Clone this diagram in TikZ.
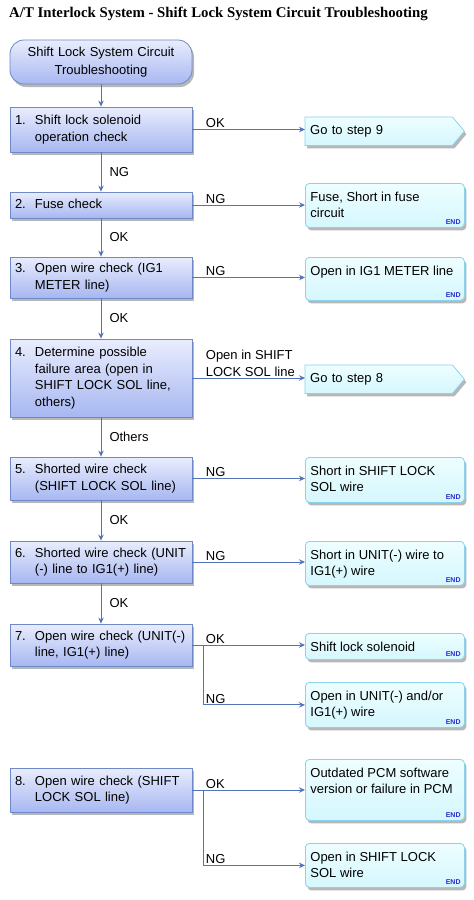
\documentclass[tikz,border=0pt]{standalone}
\usepackage{fontspec}
\setmainfont{Liberation Sans}
\newfontfamily\titlefont{Liberation Serif}
\usetikzlibrary{shadows,arrows.meta}
\pgfdeclarelayer{bg}
\pgfsetlayers{bg,main}
\definecolor{lbtop}{HTML}{E9EDFD}
\definecolor{lbbot}{HTML}{A7B7F1}
\definecolor{lbdraw}{HTML}{6E89C6}
\definecolor{rbtop}{HTML}{EEFEFF}
\definecolor{rbbot}{HTML}{D4F7FD}
\definecolor{rbdraw}{HTML}{8AD3F0}
\definecolor{arrcol}{HTML}{5474B8}
\definecolor{endcol}{HTML}{2A2ACF}
\newcommand\numtext[2]{\makebox[20pt][l]{#1}\begin{tabular}[t]{@{}l@{}}#2\end{tabular}}
\newcommand\rtext[2]{\begin{minipage}[c][#1][t]{149pt}\raggedright\vspace*{6.5pt}\strut #2\end{minipage}}
\tikzset{
  shadowed/.style={drop shadow={shadow xshift=2pt,shadow yshift=-3pt,fill=black!40,opacity=0.7}},
  lbox/.style={draw=lbdraw, line width=0.8pt, top color=lbtop, bottom color=lbbot,
    minimum width=182pt, text width=172pt, inner xsep=5pt, inner ysep=0pt, align=left, shadowed},
  sbox/.style={lbox, rounded corners=14pt, align=center, minimum height=44pt},
  rbox/.style={draw=rbdraw, line width=0.8pt, rounded corners=4pt, top color=rbtop, bottom color=rbbot,
    minimum width=159pt, inner xsep=5pt, inner ysep=0pt, anchor=north west, shadowed,
    label={[endlbl]south east:END}},
  sigtext/.style={anchor=north west, minimum width=159pt, minimum height=28pt, inner xsep=5pt,
    inner ysep=0pt, text width=149pt, align=left},
  sigshape/.style={draw=rbdraw, line width=0.8pt, top color=rbtop, bottom color=rbbot, shadowed},
  endlbl/.style={anchor=south east, font=\fontsize{7}{8}\selectfont\bfseries, text=endcol, inner xsep=4pt, inner ysep=3.5pt},
  arr/.style={draw=arrcol, line width=1pt, -{Stealth[length=6pt,width=5.5pt]}},
  hlbl/.style={anchor=south west, inner sep=1pt, align=left},
  vlbl/.style={anchor=west, inner sep=1pt, xshift=7pt}
}
\begin{document}
\begin{tikzpicture}[x=1pt,y=-1pt,font=\fontsize{13}{16.5}\selectfont]
\useasboundingbox (0,0) rectangle (474,900);
\node[anchor=west, inner sep=0pt, font=\titlefont\bfseries\fontsize{14.8}{17}\selectfont] (title) at (9,14)
  {A/T Interlock System - Shift Lock System Circuit Troubleshooting};

% left column
\node[sbox, font=\fontsize{13}{18}\selectfont] (b0) at (101,62) {Shift Lock System Circuit\\Troubleshooting};
\node[lbox, minimum height=45pt] (b1) at (101,129.5) {\numtext{1.}{Shift lock solenoid\\operation check}};
\node[lbox, minimum height=26pt] (b2) at (101,205) {\numtext{2.}{Fuse check}};
\node[lbox, minimum height=41pt] (b3) at (101,277.5) {\numtext{3.}{Open wire check (IG1\\METER line)}};
\node[lbox, minimum height=78pt] (b4) at (101,378) {\numtext{4.}{Determine possible\\failure area (open in\\SHIFT LOCK SOL line,\\others)}};
\node[lbox, minimum height=43pt] (b5) at (101,478.5) {\numtext{5.}{Shorted wire check\\(SHIFT LOCK SOL line)}};
\node[lbox, minimum height=42pt] (b6) at (101,562) {\numtext{6.}{Shorted wire check (UNIT\\(-) line to IG1(+) line)}};
\node[lbox, minimum height=42pt] (b7) at (101,645) {\numtext{7.}{Open wire check (UNIT(-)\\line, IG1(+) line)}};
\node[lbox, minimum height=44pt] (b8) at (101,790) {\numtext{8.}{Open wire check (SHIFT\\LOCK SOL line)}};

% right column
\node[sigtext] (r1) at (305,117) {Go to step 9};
\node[rbox] (r2) at (305,183) {\rtext{44pt}{Fuse, Short in fuse\\circuit}};
\node[rbox] (r3) at (305,257) {\rtext{43pt}{Open in IG1 METER line}};
\node[sigtext] (r4) at (305,365) {Go to step 8};
\node[rbox] (r5) at (305,457) {\rtext{45pt}{Short in SHIFT LOCK\\SOL wire}};
\node[rbox] (r6) at (305,541) {\rtext{44pt}{Short in UNIT(-) wire to\\IG1(+) wire}};
\node[rbox, minimum height=26pt, inner ysep=0pt] (r7) at (305,633) {\makebox[149pt][l]{Shift lock solenoid}};
\node[rbox] (r8) at (305,682) {\rtext{45pt}{Open in UNIT(-) and/or\\IG1(+) wire}};
\node[rbox] (r9) at (305,759) {\rtext{61pt}{Outdated PCM software\\version or failure in PCM}};
\node[rbox] (r10) at (305,843) {\rtext{44pt}{Open in SHIFT LOCK\\SOL wire}};

\begin{pgfonlayer}{bg}
\fill[white] (0,0) rectangle (474,900);
\foreach \s in {r1,r4}{
  \path[sigshape] (\s.north west) -- ([xshift=-12pt]\s.north east) -- (\s.east)
    -- ([xshift=-12pt]\s.south east) -- (\s.south west) -- cycle;
}
\end{pgfonlayer}

% vertical connectors
\draw[arr] (b0) -- (b1);
\draw[arr] (b1) -- node[vlbl]{NG} (b2);
\draw[arr] (b2) -- node[vlbl]{OK} (b3);
\draw[arr] (b3) -- node[vlbl]{OK} (b4);
\draw[arr] (b4) -- node[vlbl]{Others} (b5);
\draw[arr] (b5) -- node[vlbl]{OK} (b6);
\draw[arr] (b6) -- node[vlbl]{OK} (b7);

% horizontal connectors
\draw[arr] (b1.east) -- node[hlbl,pos=0,xshift=12pt]{OK} (b1.east -| r1.west);
\draw[arr] (b2.east) -- node[hlbl,pos=0,xshift=12pt]{NG} (b2.east -| r2.west);
\draw[arr] (b3.east) -- node[hlbl,pos=0,xshift=12pt]{NG} (b3.east -| r3.west);
\draw[arr] (b4.east) -- node[hlbl,pos=0,xshift=12pt]{Open in SHIFT\\LOCK SOL line} (b4.east -| r4.west);
\draw[arr] (b5.east) -- node[hlbl,pos=0,xshift=12pt]{NG} (b5.east -| r5.west);
\draw[arr] (b6.east) -- node[hlbl,pos=0,xshift=12pt]{NG} (b6.east -| r6.west);
\draw[arr] (b7.east) -- node[hlbl,pos=0,xshift=12pt]{OK} (b7.east -| r7.west);
\coordinate (j7) at ([xshift=11pt]b7.east);
\draw[arr] (j7) |- node[hlbl,pos=0.5,xshift=1pt]{NG} (r8.west);
\draw[arr] (b8.east) -- node[hlbl,pos=0,xshift=12pt]{OK} (b8.east -| r9.west);
\coordinate (j8) at ([xshift=11pt]b8.east);
\draw[arr] (j8) |- node[hlbl,pos=0.5,xshift=1pt]{NG} (r10.west);
\end{tikzpicture}
\end{document}
